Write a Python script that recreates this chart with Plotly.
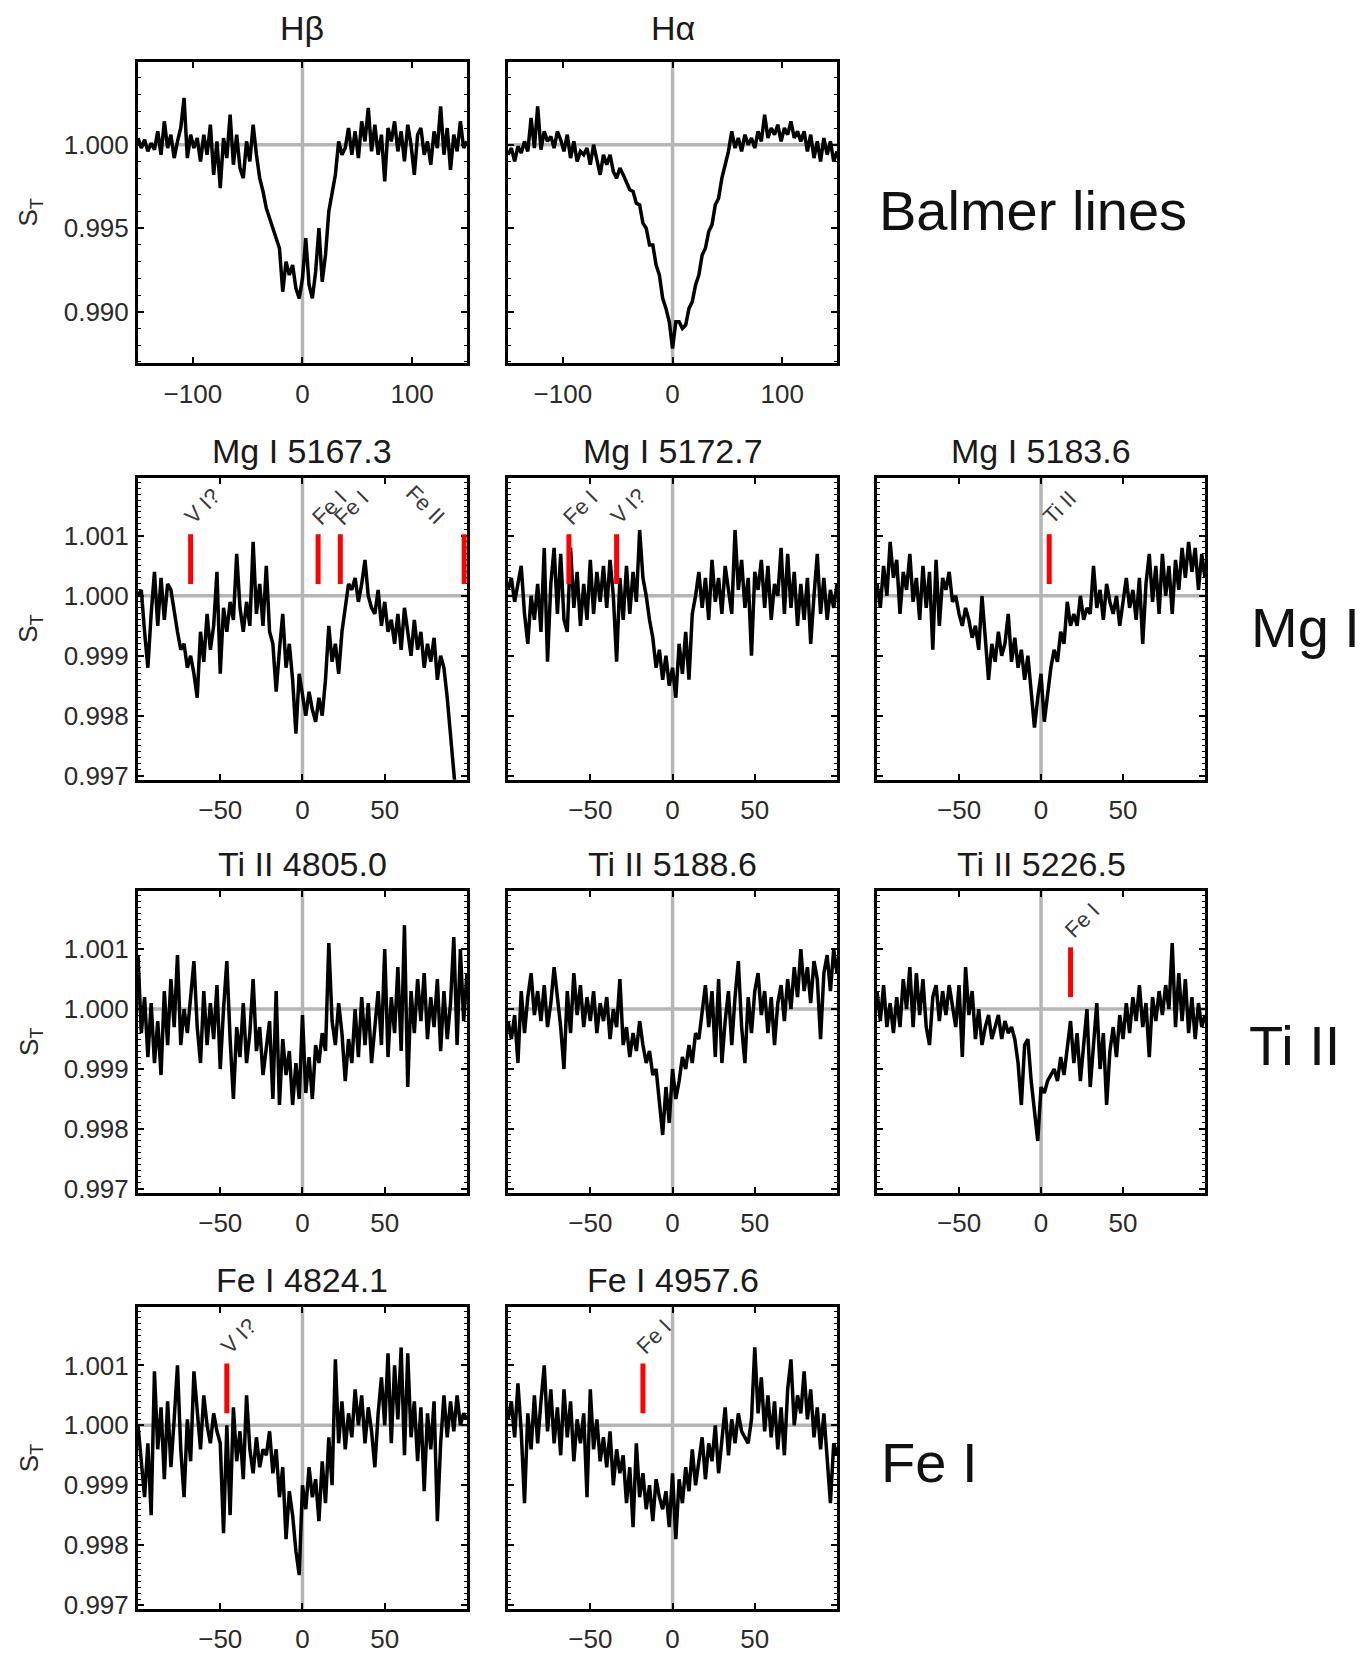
import numpy as np
import plotly.graph_objects as go

FONT = "Liberation Sans, Arial, Helvetica, sans-serif"

# ---------------------------------------------------------------------------
# Velocity grids (km/s)
V_BALMER = np.arange(-150, 151, 3)   # Balmer panels
V_METAL = np.arange(-100, 101, 2)    # metal-line panels

# S_T - 1 in units of 1e-4, one value per velocity sample
HBETA = [4, -2, 3, -4, 1, -3,
         8, -6, 14, -2, 6, -8,
         2, 10, 28, -8, 6, -2,
         4, -10, 6, -6, 12, -18,
         2, -26, 4, -8, 18, -12,
         6, -14, -20, 2, -10, 12,
         -6, -20, -28, -38, -44, -50,
         -56, -62, -88, -70, -78, -72,
         -86, -92, -80, -56, -84, -92,
         -76, -50, -82, -66, -40, -30,
         -18, 2, -6, -2, 10, -6,
         8, -8, 14, 2, 22, -4,
         12, -6, 6, -22, 10, 2,
         14, -4, 8, -10, 12, 0,
         -18, 6, 10, -6, 2, -12,
         8, -2, 23, -6, 10, -15,
         6, -4, 14, -2, 2]

HALPHA = [-6, -2, -10, -1, -5, 2,
          -4, 16, -2, 23, -3, 8,
          2, 5, -2, 8, 3, -4,
          6, -8, 2, -10, -4, -6,
          -2, -12, 0, -8, -18, -6,
          -12, -6, -16, -20, -14, -18,
          -22, -27, -28, -35, -36, -47,
          -50, -60, -60, -72, -78, -92,
          -98, -106, -122, -106, -106, -110,
          -108, -98, -94, -84, -78, -66,
          -62, -52, -48, -36, -32, -20,
          -12, -4, 8, -2, 4, -4,
          6, 0, 4, -2, 8, 2,
          18, 4, 10, 6, 12, 2,
          10, 6, 14, 4, 8, 2,
          8, -4, 6, -8, 2, -10,
          4, -6, 2, -10, -4]

MG5167 = [0, 1, -6, -12, -3, 4,
          -5, 3, -4, 2, 1, -3,
          -6, -9, -8, -12, -10, -13,
          -17, -6, -11, -3, -9, -5,
          4, -13, -2, -6, -1, -4,
          7, -2, -6, -1, -5, 9,
          -3, 2, -5, 5, -6, -8,
          -16, -9, -3, -12, -8, -14,
          -23, -13, -17, -20, -16, -19,
          -21, -17, -20, -14, -5, -11,
          -8, -13, -6, -2, 2, 1,
          3, -1, 2, 6, 0, -2,
          -3, 1, -5, -1, -6, -4,
          -8, -3, -9, -2, -6, -10,
          -4, -9, -6, -12, -8, -11,
          -7, -14, -10, -12, -17, -25,
          -33, -38, -44, -48, -52]

MG5172 = [1, 3, -1, 2, 5, -3,
          -8, 0, -4, 2, -6, 8,
          -11, 2, 8, -3, 7, -4,
          -6, 8, -2, 4, -5, 2,
          -4, 6, -3, 4, -1, 5,
          -2, 6, 0, -11, 3, -4,
          5, -3, 4, -1, 11, 3,
          0, -4, -7, -12, -9, -14,
          -10, -15, -12, -17, -8, -13,
          -6, -14, -3, 0, 4, -2,
          3, -4, 6, -1, 3, -3,
          5, 1, -3, 11, 1, 6,
          -2, 3, -10, 4, 1, 6,
          -2, 5, -4, 2, 0, 8,
          -3, 7, -2, 4, -5, 2,
          -4, 3, -8, 0, 7, -3,
          3, -4, 1, -2, 2]

MG5183 = [2, -2, 5, 0, 9, 3,
          6, -3, 4, 1, 7, -1,
          3, -4, 5, -2, 4, -9,
          6, -5, 3, 1, 4, -1,
          0, -3, -5, -2, -4, -7,
          -5, -9, 0, -7, -14, -8,
          -11, -6, -10, -8, -3, -11,
          -7, -12, -9, -14, -10, -16,
          -22, -17, -13, -21, -16, -12,
          -9, -11, -6, -8, -1, -5,
          -3, -5, 0, -4, -2, -3,
          5, -2, 1, -4, 2, -1,
          -3, 0, -5, -1, 3, -2,
          1, -4, 3, -8, 2, 7,
          -1, 5, -3, 7, 0, 5,
          -3, 6, 1, 8, 3, 9,
          4, 8, 1, 7, 3]

TI4805 = [9, -4, 2, -8, 1, -9,
          -2, -11, 3, -6, 5, -3,
          9, -6, 0, -4, 2, 8,
          -3, -9, 3, -6, 1, -5,
          4, -10, 0, 8, -5, -15,
          -3, -8, 1, -9, -4, 5,
          -7, -3, -11, -6, -2, -15,
          3, -16, -5, -11, -7, -16,
          -9, -15, -1, -14, -8, -15,
          -6, -9, -4, -7, 11, -2,
          -6, 1, -4, -12, -5, -9,
          0, -8, 2, -6, 1, -9,
          -3, 3, -6, 10, -8, 2,
          -4, 7, -7, 14, -13, 3,
          -4, 5, -2, 6, -5, 2,
          -3, 5, -7, 3, -5, 1,
          12, -6, 10, -2, 6]

TI5188 = [-2, -5, -1, -9, 3, -4,
          2, 6, -1, 3, -2, 4,
          -3, 1, 7, 2, -3, -10,
          3, -4, 6, -1, 4, -3,
          2, -2, 3, -4, 1, -2,
          2, -5, 0, -3, 5, -6,
          -3, -8, -4, -7, -2, -6,
          -9, -7, -11, -10, -16, -21,
          -13, -19, -10, -15, -12, -8,
          -10, -6, -9, -4, -5, 0,
          4, -3, 3, -8, 5, -9,
          -2, 3, -6, 2, 8, -3,
          -9, 2, -4, 3, 6, -1,
          3, -4, 2, -6, 1, 4,
          -2, 5, 0, 7, 2, 10,
          3, 7, 1, 8, 5, -5,
          6, 9, 3, 10, 6]

TI5226 = [3, -2, 4, -3, 1, -4,
          2, -3, 5, 0, 7, -3,
          6, -1, 5, -3, -6, 2,
          4, -2, 3, -1, 4, 0,
          -3, 4, -8, 7, -1, 3,
          -5, 0, -6, -3, -1, -5,
          -3, -1, -5, -2, -4, -3,
          -5, -9, -16, -6, -5, -12,
          -17, -22, -13, -14, -12, -11,
          -10, -12, -8, -11, -7, -2,
          -9, -4, -12, -6, 0, -13,
          -6, 1, -10, -4, -16, -7,
          -3, -8, -1, -5, 1, -4,
          2, -2, 4, -3, 1, -8,
          2, -2, 3, -1, 4, 0,
          11, -3, 6, -2, 5, -4,
          2, -5, 1, -3, -1]

FE4824 = [0, -6, -12, -3, -15, 9,
          -4, 3, -9, 4, -7, 1,
          10, -4, -12, 1, -6, 9,
          2, -4, 5, 0, -3, 2,
          -1, -3, -18, 0, -15, 3,
          -6, -1, -9, 5, -4, -8,
          -2, -7, -4, -5, -1, -8,
          -4, -12, -7, -19, -11, -15,
          -21, -25, -10, -14, -7, -12,
          -9, -16, -6, -13, -2, -10,
          11, -3, 4, -4, 2, -2,
          6, 0, 5, -3, 3, -1,
          -7, 2, 8, 0, 12, -3,
          10, 1, 13, -5, 12, -2,
          4, -6, 3, -11, 2, -4,
          4, -16, -3, 5, -2, 4,
          -1, 5, 0, 2, 1]

FE4957 = [1, 4, -2, 7, -1, -13,
          2, -4, 5, -3, 4, 10,
          -1, 6, -3, 3, -5, 6,
          -2, 4, -6, 1, -3, 2,
          -12, 6, -4, 1, -6, -2,
          -7, -1, -10, -4, -8, -5,
          -13, -7, -17, -3, -12, -8,
          -14, -10, -16, -9, -12, -14,
          -11, -17, -8, -19, -9, -13,
          -7, -11, -4, -10, -6, -2,
          -9, -3, -6, 0, -8, -2,
          3, -5, 1, -3, 2, -1,
          -2, -3, 1, 13, 2, 8,
          -1, 5, -2, 4, -4, 3,
          -5, 6, 11, 0, 5, 2,
          9, 1, 6, -2, 3, -4,
          2, -6, -13, -3, -5]

# Identified blends: velocity (km/s) and species
MG5167_ID_V = [-68, 9.5, 23, 98.3]
MG5167_ID_TXT = ["V I?", "Fe I", "Fe I", "Fe II"]
MG5172_ID_V = [-63, -34]
MG5172_ID_TXT = ["Fe I", "V I?"]
MG5183_ID_V = [5]
MG5183_ID_TXT = ["Ti II"]
TI5226_ID_V = [18]
TI5226_ID_TXT = ["Fe I"]
FE4824_ID_V = [-46]
FE4824_ID_TXT = ["V I?"]
FE4957_ID_V = [-18]
FE4957_ID_TXT = ["Fe I"]

ID_LO, ID_HI = 1.0002, 1.00103   # extent of the identification ticks

GROUP_LABELS = ["Balmer lines", "Mg I", "Ti II", "Fe I"]

# ---------------------------------------------------------------------------
COL_X = [(0.1014, 0.3431), (0.3733, 0.6150), (0.6444, 0.8854)]
ROW_Y = [(0.7797, 0.9627), (0.5274, 0.7104), (0.2769, 0.4600), (0.0247, 0.2077)]

panels = [
    dict(title="Hβ", v=V_BALMER, s=HBETA, row=0, col=0, ids=([], [])),
    dict(title="Hα", v=V_BALMER, s=HALPHA, row=0, col=1, ids=([], [])),
    dict(title="Mg I 5167.3", v=V_METAL, s=MG5167, row=1, col=0, ids=(MG5167_ID_V, MG5167_ID_TXT)),
    dict(title="Mg I 5172.7", v=V_METAL, s=MG5172, row=1, col=1, ids=(MG5172_ID_V, MG5172_ID_TXT)),
    dict(title="Mg I 5183.6", v=V_METAL, s=MG5183, row=1, col=2, ids=(MG5183_ID_V, MG5183_ID_TXT)),
    dict(title="Ti II 4805.0", v=V_METAL, s=TI4805, row=2, col=0, ids=([], [])),
    dict(title="Ti II 5188.6", v=V_METAL, s=TI5188, row=2, col=1, ids=([], [])),
    dict(title="Ti II 5226.5", v=V_METAL, s=TI5226, row=2, col=2, ids=(TI5226_ID_V, TI5226_ID_TXT)),
    dict(title="Fe I 4824.1", v=V_METAL, s=FE4824, row=3, col=0, ids=(FE4824_ID_V, FE4824_ID_TXT)),
    dict(title="Fe I 4957.6", v=V_METAL, s=FE4957, row=3, col=1, ids=(FE4957_ID_V, FE4957_ID_TXT)),
]

fig = go.Figure()
layout = dict(
    width=1361, height=1661,
    margin=dict(l=0, r=0, t=0, b=0),
    paper_bgcolor="white", plot_bgcolor="white",
    showlegend=False,
    font=dict(family=FONT, color="#222222"),
)
shapes, annotations = [], []

for i, p in enumerate(panels, start=1):
    xa = "x" if i == 1 else f"x{i}"
    ya = "y" if i == 1 else f"y{i}"
    xkey = "xaxis" if i == 1 else f"xaxis{i}"
    ykey = "yaxis" if i == 1 else f"yaxis{i}"
    balmer = p["row"] == 0

    xr = [-150, 150] if balmer else [-100, 100]
    yr = [0.9869, 1.00498] if balmer else [0.99693, 1.00197]

    layout[xkey] = dict(
        domain=COL_X[p["col"]], anchor=ya, range=xr,
        tickmode="array", tickvals=[-100, 0, 100] if balmer else [-50, 0, 50],
        ticks="inside", ticklen=6, tickwidth=2, tickcolor="black",
        showline=True, linewidth=3, linecolor="black", mirror="ticks",
        showgrid=False, zeroline=False,
        tickfont=dict(size=26, color="#2a2a2a"),
        ticklabelstandoff=5,
        layer="below traces",
    )
    layout[ykey] = dict(
        domain=ROW_Y[p["row"]], anchor=xa, range=yr,
        tickmode="linear", tick0=1.0, dtick=0.005 if balmer else 0.001,
        tickformat=".3f",
        ticks="inside", ticklen=6, tickwidth=2, tickcolor="black",
        minor=dict(ticks="inside", ticklen=3, tickwidth=1.2, tickcolor="black",
                   tickmode="linear", tick0=1.0, dtick=0.001 if balmer else 0.0001,
                   showgrid=False),
        showline=True, linewidth=3, linecolor="black", mirror="ticks",
        showgrid=False, zeroline=False,
        showticklabels=(p["col"] == 0),
        tickfont=dict(size=26, color="#2a2a2a"),
        ticklabelstandoff=1,
        layer="below traces",
    )

    # reference cross-hair at zero velocity and unit flux
    shapes.append(dict(type="line", xref=xa, yref=f"{ya} domain", x0=0, x1=0, y0=0, y1=1,
                       line=dict(color="#b5b5b5", width=3.5), layer="below"))
    shapes.append(dict(type="line", xref=f"{xa} domain", yref=ya, x0=0, x1=1, y0=1.0, y1=1.0,
                       line=dict(color="#b5b5b5", width=3.5), layer="below"))

    flux = 1.0 + np.asarray(p["s"], dtype=float) * 1e-4
    fig.add_trace(go.Scatter(x=p["v"], y=flux, xaxis=xa, yaxis=ya, mode="lines",
                             line=dict(color="black", width=3.5),
                             hoverinfo="skip"))

    ids_v, ids_t = p["ids"]
    for v, txt in zip(ids_v, ids_t):
        fig.add_trace(go.Scatter(x=[v, v], y=[ID_LO, ID_HI], xaxis=xa, yaxis=ya, mode="lines",
                                 line=dict(color="#ff0000", width=5), hoverinfo="skip"))
        near_edge = v > 0.8 * xr[1]
        annotations.append(dict(
            x=v, y=ID_HI, xref=xa, yref=ya, text=txt, showarrow=False,
            textangle=45 if near_edge else -45,
            xanchor="right" if near_edge else "left", yanchor="bottom",
            xshift=-12 if near_edge else -14, yshift=2,
            font=dict(size=22, color="#3a3a3a", family=FONT),
        ))

    # panel title
    cx = sum(COL_X[p["col"]]) / 2
    annotations.append(dict(x=cx, y=ROW_Y[p["row"]][1], xref="paper", yref="paper",
                            text=p["title"], showarrow=False, xanchor="center",
                            yanchor="bottom", yshift=6 if not balmer else 13,
                            font=dict(size=34, color="#1a1a1a", family=FONT)))

# y-axis titles on the left column
for r in range(4):
    annotations.append(dict(x=30 / 1361, y=sum(ROW_Y[r]) / 2, xref="paper", yref="paper",
                            text="S<sub>T</sub>", showarrow=False, textangle=-90,
                            xanchor="center", yanchor="middle",
                            font=dict(size=26, color="#2a2a2a", family=FONT)))

# group labels to the right of each row
GROUP_POS = [(877 / 1361, 1 - 212 / 1661), (1249 / 1361, 1 - 632 / 1661),
             (1247 / 1361, 1 - 1052 / 1661), (879 / 1361, 1 - 1472 / 1661)]
for label, (gx, gy) in zip(GROUP_LABELS, GROUP_POS):
    annotations.append(dict(x=gx, y=gy, xref="paper", yref="paper", text=label,
                            showarrow=False, xanchor="left", yanchor="middle",
                            font=dict(size=56, color="#111111", family=FONT)))

layout["shapes"] = shapes
layout["annotations"] = annotations
fig.update_layout(**layout)
fig.write_html("out.html")
